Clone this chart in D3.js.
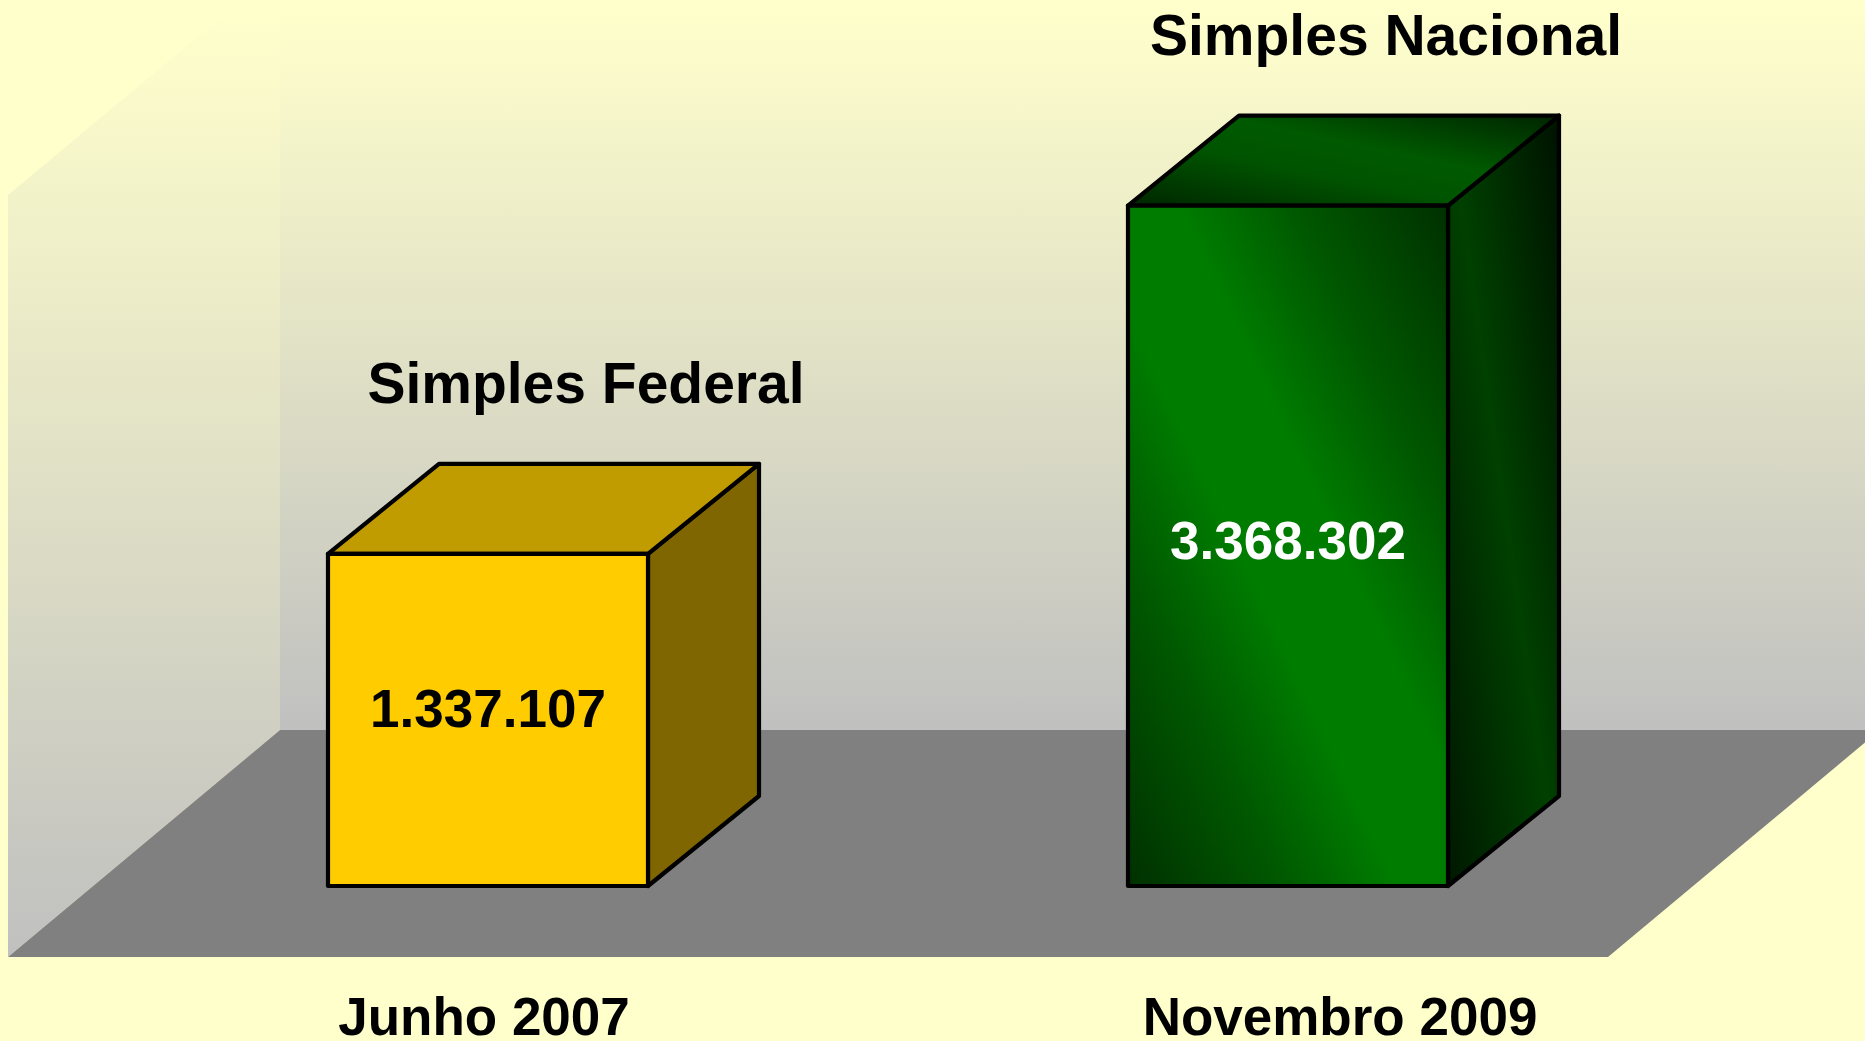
<!DOCTYPE html>
<html>
<head>
<meta charset="utf-8">
<script src="https://cdn.jsdelivr.net/npm/d3@7"></script>
<style>
  html, body { margin: 0; padding: 0; background: #ffffcc; }
  svg { display: block; }
  text { font-family: 'Liberation Sans', Arial, sans-serif; font-weight: bold; }
</style>
</head>
<body>
<div id="chart"></div>
<script>
// data
const categories = ['Junho 2007', 'Novembro 2009']
const seriesNames = ['Simples Federal', 'Simples Nacional']
const values = [1337107, 3368302]

const width = 1865, height = 1041
const depth = {dx: 111, dy: -90}       // bar depth (oblique projection)
const floorDepth = {dx: 272, dy: -227} // floor / walls depth
const floorFrontY = 957, floorLeft = 8, floorRight = 1608
const wallTop = 10

const ptBR = d3.formatLocale({decimal: ',', thousands: '.', grouping: [3], currency: ['R$ ', '']})
const fmt = ptBR.format(',d')

const x = d3.scaleBand()
    .domain(categories)
    .range([88, 1688])
    .paddingInner(0.6)
    .paddingOuter(0.3)

// category labels sit along the floor front edge
const xLabel = d3.scaleBand()
    .domain(categories)
    .range([56, 1768])

const y = d3.scaleLinear()
    .domain([-600000, 3500000])
    .range([886, 183])

const svg = d3.select('#chart').append('svg')
    .attr('width', width)
    .attr('height', height)

const defs = svg.append('defs')

function vGrad(id) {
    const g = defs.append('linearGradient').attr('id', id)
        .attr('x1', 0).attr('y1', 0).attr('x2', 0).attr('y2', 1)
    g.append('stop').attr('offset', 0).attr('stop-color', '#ffffcc')
    g.append('stop').attr('offset', 1).attr('stop-color', '#c0c0c0')
}
vGrad('wallBack')
vGrad('wallLeft')

// diagonal shading: dark corners bottom-left / top-right, bright band through the middle
function diagGrad(id, stops) {
    const g = defs.append('linearGradient').attr('id', id)
        .attr('x1', 0).attr('y1', 1).attr('x2', 1).attr('y2', 0)
    stops.forEach(s => g.append('stop').attr('offset', s[0]).attr('stop-color', s[1]))
}
diagGrad('greenFront', [[0, '#003000'], [0.24, '#005800'], [0.42, '#007c00'], [0.58, '#007c00'], [0.76, '#005800'], [1, '#003000']])
diagGrad('greenTop', [[0, '#002600'], [0.4, '#005400'], [0.6, '#005a00'], [1, '#002400']])
diagGrad('greenSide', [[0, '#001800'], [0.5, '#004000'], [1, '#001200']])

const faces = [
    {front: '#ffcc00', top: '#c09c00', side: '#806600', text: '#000'},
    {front: 'url(#greenFront)', top: 'url(#greenTop)', side: 'url(#greenSide)', text: '#fff'}
]

// walls and floor
const backX = floorLeft + floorDepth.dx
const backY = floorFrontY + floorDepth.dy
const pts = a => a.map(p => p.join(',')).join(' ')

svg.append('rect')
    .attr('x', backX).attr('y', wallTop)
    .attr('width', width - backX).attr('height', backY - wallTop)
    .attr('fill', 'url(#wallBack)')

const leftTopY = 195
svg.append('polygon')
    .attr('points', pts([
        [floorLeft, floorFrontY],
        [floorLeft, leftTopY],
        [floorLeft + (leftTopY - wallTop) * floorDepth.dx / -floorDepth.dy, wallTop],
        [backX, wallTop],
        [backX, backY]
    ]))
    .attr('fill', 'url(#wallLeft)')

svg.append('polygon')
    .attr('points', pts([
        [floorLeft, floorFrontY],
        [floorRight, floorFrontY],
        [floorRight + floorDepth.dx, backY],
        [backX, backY]
    ]))
    .attr('fill', '#808080')

// bars
const bars = svg.selectAll('g.bar')
    .data(values.map((v, i) => ({v, i, cat: categories[i], name: seriesNames[i]})))
    .join('g')
    .attr('class', 'bar')

bars.each(function(d) {
    const g = d3.select(this)
    const x0 = x(d.cat), x1 = x0 + x.bandwidth()
    const yb = y.range()[0], yt = y(d.v)
    const f = faces[d.i]
    const line = {stroke: '#000', 'stroke-width': 4.2, 'stroke-linejoin': 'round'}

    const side = g.append('polygon')
        .attr('points', pts([[x1, yb], [x1, yt], [x1 + depth.dx, yt + depth.dy], [x1 + depth.dx, yb + depth.dy]]))
        .attr('fill', f.side)
    const top = g.append('polygon')
        .attr('points', pts([[x0, yt], [x1, yt], [x1 + depth.dx, yt + depth.dy], [x0 + depth.dx, yt + depth.dy]]))
        .attr('fill', f.top)
    const front = g.append('rect')
        .attr('x', x0).attr('y', yt)
        .attr('width', x1 - x0).attr('height', yb - yt)
        .attr('fill', f.front)
    ;[side, top, front].forEach(s => Object.entries(line).forEach(([k, v]) => s.attr(k, v)))

    // value inside the front face
    g.append('text')
        .attr('x', (x0 + x1) / 2)
        .attr('y', yt + (yb - yt) * 0.52)
        .attr('text-anchor', 'middle')
        .attr('font-size', 53)
        .attr('fill', f.text)
        .text(fmt(d.v))

    // series name above the bar
    g.append('text')
        .attr('x', (x0 + x1) / 2 + 98)
        .attr('y', yt + depth.dy - 61)
        .attr('text-anchor', 'middle')
        .attr('font-size', 57)
        .attr('fill', '#000')
        .text(d.name)
})

// category labels
svg.selectAll('text.cat')
    .data(categories)
    .join('text')
    .attr('class', 'cat')
    .attr('x', d => xLabel(d) + xLabel.bandwidth() / 2)
    .attr('y', 1035)
    .attr('text-anchor', 'middle')
    .attr('font-size', 53)
    .attr('fill', '#000')
    .text(d => d)
</script>
</body>
</html>
